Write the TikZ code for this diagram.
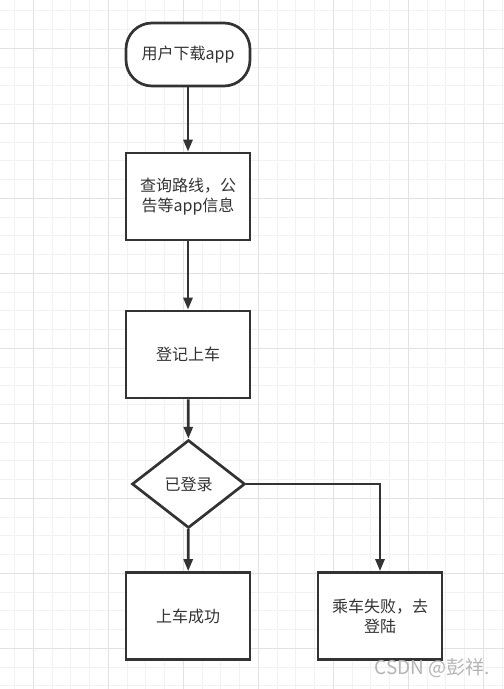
\documentclass[tikz,border=0pt]{standalone}
\usepackage{fontspec}
\setmainfont{Noto Sans CJK SC}
\usetikzlibrary{shapes.geometric,arrows.meta}
\definecolor{ink}{HTML}{333333}
\definecolor{gridminor}{HTML}{F2F2F2}
\definecolor{gridmajor}{HTML}{E2E2E2}
\definecolor{wm}{HTML}{B4B4B4}
\begin{document}
\begin{tikzpicture}[x=1pt,y=-1pt,
  shapebox/.style={draw=ink,line width=2.7pt,fill=white,text=ink,font=\fontsize{16}{20}\selectfont,align=center,inner sep=0pt},
  procbox/.style={shapebox,minimum width=124pt,minimum height=87pt,text width=112pt},
  conn/.style={draw=ink,line width=2.7pt,-{Triangle[length=12pt,width=9pt]}}]
\useasboundingbox (0,0) rectangle (504,689);
\fill[white] (0,0) rectangle (504,689);
% grid
\foreach \i in {-1,...,25} {
  \pgfmathsetmacro{\gx}{33.3+\i*18.75}
  \draw[gridminor,line width=0.8pt] (\gx,0) -- (\gx,689);
}
\foreach \i in {-2,...,34} {
  \pgfmathsetmacro{\gy}{48.3+\i*18.75}
  \draw[gridminor,line width=0.8pt] (0,\gy) -- (504,\gy);
}
\foreach \i in {0,...,6} {
  \pgfmathsetmacro{\gx}{33.3+\i*75}
  \draw[gridmajor,line width=0.9pt] (\gx,0) -- (\gx,689);
}
\foreach \i in {-1,...,8} {
  \pgfmathsetmacro{\gy}{48.3+\i*75}
  \draw[gridmajor,line width=0.9pt] (0,\gy) -- (504,\gy);
}
% nodes
\node[shapebox,rounded corners=26pt,minimum width=124pt,minimum height=63pt] (start) at (188,54.5) {用户下载app};
\node[procbox] (query) at (188,196.5) {查询路线，公\\告等app信息};
\node[procbox] (board) at (188,354.5) {登记上车};
\node[shapebox,diamond,aspect=1.28,minimum width=113pt,minimum height=88pt,inner sep=0pt] (login) at (188.5,484) {};
\node[text=ink,font=\fontsize{16}{20}\selectfont] (logintxt) at (188.5,484) {已登录};
\node[procbox] (ok) at (188,616) {上车成功};
\node[procbox] (fail) at (380,616) {乘车失败，去\\登陆};
\coordinate (corner) at (380,484);
% connectors
\draw[conn] (start) -- (query);
\draw[conn] (query) -- (board);
\draw[conn] (board) -- (login);
\draw[conn] (login) -- (ok);
\draw[conn] (login.east) -- (corner) -- (fail.north);
% watermark
\node[text=wm,font=\fontsize{19}{22}\selectfont,anchor=east,inner sep=0pt] (wmark) at (490,668) {CSDN @彭祥.};
\end{tikzpicture}
\end{document}
